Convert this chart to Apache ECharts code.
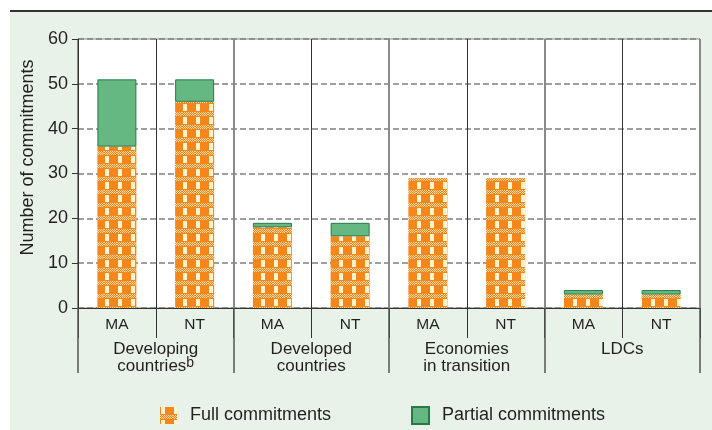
<!DOCTYPE html>
<html>
<head>
<meta charset="utf-8">
<script src="https://cdn.jsdelivr.net/npm/echarts@6/dist/echarts.min.js"></script>
<style>
  html, body { margin: 0; padding: 0; background: #fff; }
  #chart { width: 712px; height: 430px; }
</style>
</head>
<body>
<div id="chart"></div>
<script>
  // bars: MA / NT per country group
  var subCategories = ["MA", "NT", "MA", "NT", "MA", "NT", "MA", "NT"];
  var groups = ["Developing\ncountries{sup|b}", "Developed\ncountries", "Economies\nin transition", "LDCs"];
  var fullCommitments = [36, 46, 18, 16, 29, 29, 3, 3];
  var partialCommitments = [15, 5, 1, 3, 0, 0, 1, 1];
  var yTicks = { min: 0, max: 60, interval: 10 };

  var FONT = "'Liberation Sans', Arial, sans-serif";
  var INK = "#231f20";

  // checkered orange fill used for "Full commitments"
  function makeCheckTile() {
    var c = document.createElement("canvas");
    c.width = 13;
    c.height = 13;
    var ctx = c.getContext("2d");
    ctx.fillStyle = "#f5861c";
    ctx.fillRect(0, 0, 13, 13);
    ctx.fillStyle = "#fff4cc";
    ctx.fillRect(1, 0, 4, 7);
    for (var x = 0; x < 13; x++) {
      for (var y = 8; y < 12; y++) {
        if ((x + y) % 2 === 0) {
          ctx.fillStyle = "#fcd7a6";
          ctx.fillRect(x, y, 1, 1);
        }
      }
    }
    return c;
  }

  // empty stack segments would still draw a border line
  function dropZeros(arr) {
    return arr.map(function (v) { return v === 0 ? "-" : v; });
  }

  var chart = echarts.init(document.getElementById("chart"), null, { renderer: "canvas" });

  var option = {
    animation: false,
    backgroundColor: "#fff",
    textStyle: { fontFamily: FONT, color: INK },
    graphic: [
      { type: "rect", silent: true, z: -10, shape: { x: 10, y: 11, width: 702, height: 419 }, style: { fill: "#e8f2e9" } },
      { type: "line", silent: true, z: -9, shape: { x1: 10, y1: 11, x2: 712, y2: 11 }, style: { stroke: "#333", lineWidth: 2 } }
    ],
    grid: {
      left: 78, right: 12, top: 39, bottom: 122,
      show: true, backgroundColor: "#fff", borderColor: "#8a8a8a", borderWidth: 1
    },
    legend: {
      left: 155, top: 401,
      itemWidth: 17, itemHeight: 17, itemGap: 80,
      icon: "rect",
      textStyle: { fontSize: 18, color: INK, fontFamily: FONT, padding: [0, 0, 0, 8] },
      data: ["Full commitments", "Partial commitments"]
    },
    xAxis: [
      {
        type: "category",
        data: subCategories,
        position: "bottom",
        axisLine: { lineStyle: { color: "#333", width: 1 } },
        axisTick: { show: true, interval: 0, length: 30, lineStyle: { color: "#333", width: 1 } },
        axisLabel: { interval: 0, margin: 9, fontSize: 15.5, color: INK, fontFamily: FONT },
        splitLine: { show: true, interval: 0, lineStyle: { color: "#333", width: 1 } }
      },
      {
        type: "category",
        data: groups,
        position: "bottom",
        axisLine: { show: false },
        axisTick: { show: true, interval: 0, length: 65, lineStyle: { color: "#555", width: 1.5 } },
        axisLabel: {
          interval: 0, margin: 33, fontSize: 17, lineHeight: 17, color: INK, fontFamily: FONT,
          rich: { sup: { fontSize: 14, padding: [0, 0, 6, 0], color: INK, fontFamily: FONT } }
        },
        splitLine: { show: true, interval: 0, lineStyle: { color: "#8a8a8a", width: 2 } }
      }
    ],
    yAxis: {
      type: "value",
      min: yTicks.min, max: yTicks.max, interval: yTicks.interval,
      name: "Number of commitments",
      nameLocation: "middle",
      nameGap: 41,
      nameTextStyle: { fontSize: 18, color: INK, fontFamily: FONT, padding: [0, 0, 0, 32] },
      axisLine: { show: true, lineStyle: { color: "#333", width: 1 } },
      axisTick: { show: true, length: 6, lineStyle: { color: "#333" } },
      axisLabel: { fontSize: 18, margin: 10, color: INK, fontFamily: FONT },
      splitLine: { show: true, lineStyle: { color: "#808080", type: [6, 3], width: 1.5 } }
    },
    series: [
      {
        name: "Full commitments",
        type: "bar",
        stack: "total",
        barWidth: 39,
        xAxisIndex: 0,
        itemStyle: { color: { image: makeCheckTile(), repeat: "repeat" } },
        data: dropZeros(fullCommitments)
      },
      {
        name: "Partial commitments",
        type: "bar",
        stack: "total",
        barWidth: 39,
        xAxisIndex: 0,
        itemStyle: { color: "#66b883", borderColor: "#257a48", borderWidth: 1 },
        data: dropZeros(partialCommitments)
      }
    ]
  };

  chart.setOption(option);
</script>
</body>
</html>
